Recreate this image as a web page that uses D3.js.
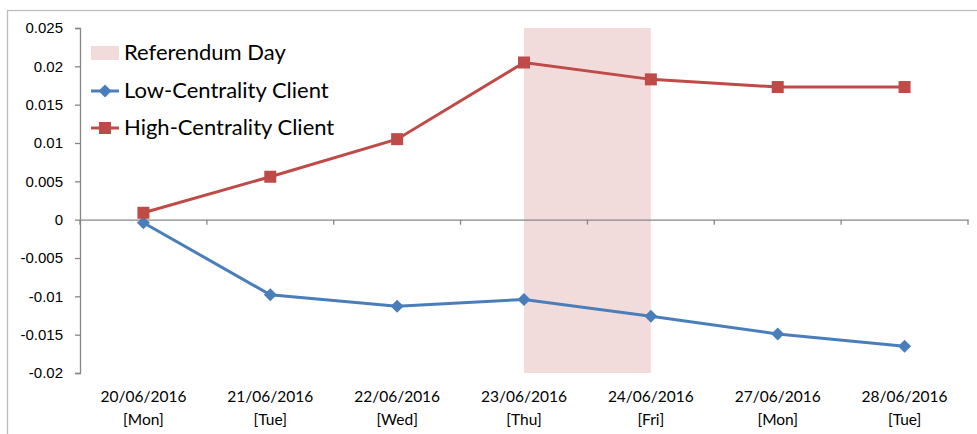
<!DOCTYPE html>
<html>
<head>
<meta charset="utf-8">
<script src="https://cdn.jsdelivr.net/npm/d3@7"></script>
<style>
  body { margin: 0; background: #fff; }
  svg { display: block; font-family: Lato, "Open Sans", sans-serif; }
</style>
</head>
<body>
<svg></svg>
<script>
var width = 977;
var height = 434;

// data
var dates = ["20/06/2016", "21/06/2016", "22/06/2016", "23/06/2016", "24/06/2016", "27/06/2016", "28/06/2016"];
var days = ["[Mon]", "[Tue]", "[Wed]", "[Thu]", "[Fri]", "[Mon]", "[Tue]"];
var lowCentrality = [-0.0004, -0.0098, -0.0113, -0.0104, -0.0126, -0.0149, -0.0165];
var highCentrality = [0.0009, 0.0056, 0.0105, 0.0205, 0.0183, 0.0173, 0.0173];
var yTicks = [0.025, 0.02, 0.015, 0.01, 0.005, 0, -0.005, -0.01, -0.015, -0.02];
var shadeFrom = 3; // Thu
var shadeTo = 4;   // Fri

var margin = { left: 80, right: 9, top: 28, bottom: 61 };

var svg = d3.select('svg')
	.attr("width", width)
	.attr("height", height);

// chart border
svg.append('rect')
	.attr('x', 7.5)
	.attr('y', 10.5)
	.attr('width', width)
	.attr('height', height)
	.style('fill', 'none')
	.style('stroke', '#bcbcbc')
	.style('stroke-width', 1.3);

var x = d3.scaleBand()
	.domain(dates)
	.range([margin.left, width - margin.right]);

var y = d3.scaleLinear()
	.domain([-0.02, 0.025])
	.range([height - margin.bottom, margin.top]);

function cx(d, i) { return x(dates[i]) + x.bandwidth() / 2; }

// referendum day shading
svg.append('rect')
	.attr('x', cx(null, shadeFrom))
	.attr('y', y(0.025))
	.attr('width', cx(null, shadeTo) - cx(null, shadeFrom))
	.attr('height', y(-0.02) - y(0.025))
	.style('fill', '#f2dcdb');

// y axis
var yAxis = svg.append('g')
	.attr('transform', 'translate(' + margin.left + ',0)')
	.call(d3.axisLeft(y).tickValues(yTicks).tickSize(5).tickPadding(12)
		.tickFormat(function (d) { return d === 0 ? "0" : String(+d.toFixed(3)); }));
yAxis.select('.domain').style('stroke', '#868686').style('stroke-width', 1.3);
yAxis.selectAll('.tick line').style('stroke', '#868686').style('stroke-width', 1.3);
yAxis.selectAll('text').style('font-size', '15px').style('fill', '#000');

// x axis along zero
var xAxis = svg.append('g')
	.attr('transform', 'translate(0,' + y(0) + ')')
	.call(d3.axisBottom(x).tickSize(0).tickFormat(''));
xAxis.select('.domain').style('stroke', '#868686').style('stroke-width', 1.3);
xAxis.selectAll('.tick').remove();
xAxis.selectAll('.cat-tick')
	.data(dates.concat(['end']))
	.enter()
	.append('line')
	.attr('x1', function (d, i) { return margin.left + i * x.step(); })
	.attr('x2', function (d, i) { return margin.left + i * x.step(); })
	.attr('y1', 0)
	.attr('y2', 5)
	.style('stroke', '#868686')
	.style('stroke-width', 1.3);

// category labels at the bottom
var labels = svg.append('g').selectAll('text')
	.data(dates)
	.enter()
	.append('text')
	.attr('text-anchor', 'middle')
	.style('font-size', '15.5px')
	.attr('x', cx)
	.attr('y', 402);
labels.append('tspan').text(function (d) { return d; });
labels.append('tspan')
	.attr('x', cx)
	.attr('dy', 22.5)
	.text(function (d, i) { return days[i]; });

var line = d3.line()
	.x(cx)
	.y(function (d) { return y(d); });

function diamond(sel, color) {
	sel.append('path')
		.attr('d', 'M0,-6.5L6.5,0L0,6.5L-6.5,0Z')
		.style('fill', color);
}

// low centrality series
svg.append('path')
	.datum(lowCentrality)
	.attr('d', line)
	.style('fill', 'none')
	.style('stroke', '#4a7ebb')
	.style('stroke-width', 3);
svg.selectAll('.low-pt')
	.data(lowCentrality)
	.enter()
	.append('g')
	.attr('transform', function (d, i) { return 'translate(' + cx(d, i) + ',' + y(d) + ')'; })
	.call(diamond, '#4a7ebb');

// high centrality series
svg.append('path')
	.datum(highCentrality)
	.attr('d', line)
	.style('fill', 'none')
	.style('stroke', '#be4b48')
	.style('stroke-width', 3);
svg.selectAll('.high-pt')
	.data(highCentrality)
	.enter()
	.append('rect')
	.attr('x', function (d, i) { return cx(d, i) - 6; })
	.attr('y', function (d) { return y(d) - 6; })
	.attr('width', 12)
	.attr('height', 12)
	.style('fill', '#be4b48');

// legend
var legend = svg.append('g').style('font-size', '22px');
legend.append('rect')
	.attr('x', 91).attr('y', 46)
	.attr('width', 28).attr('height', 14)
	.style('fill', '#f2dcdb');
legend.append('text').attr('x', 124).attr('y', 60).text('Referendum Day');

legend.append('line')
	.attr('x1', 91).attr('x2', 119).attr('y1', 91).attr('y2', 91)
	.style('stroke', '#4a7ebb').style('stroke-width', 3);
legend.append('g').attr('transform', 'translate(105,91)').call(diamond, '#4a7ebb');
legend.append('text').attr('x', 124).attr('y', 98).text('Low-Centrality Client');

legend.append('line')
	.attr('x1', 91).attr('x2', 119).attr('y1', 128).attr('y2', 128)
	.style('stroke', '#be4b48').style('stroke-width', 3);
legend.append('rect')
	.attr('x', 99).attr('y', 122).attr('width', 12).attr('height', 12)
	.style('fill', '#be4b48');
legend.append('text').attr('x', 124).attr('y', 135).text('High-Centrality Client');
</script>
</body>
</html>
